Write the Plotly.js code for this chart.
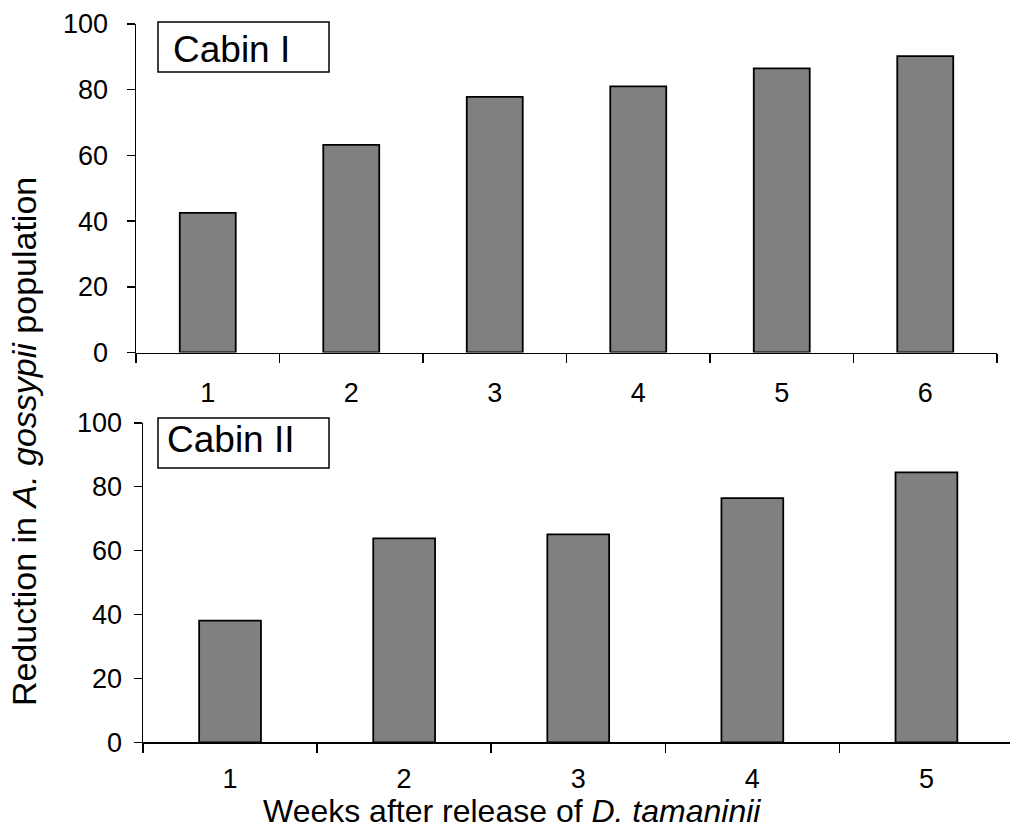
<!DOCTYPE html>
<html>
<head>
<meta charset="utf-8">
<script src="https://cdn.plot.ly/plotly-3.0.1.min.js"></script>
<style>html,body{margin:0;padding:0;background:#fff;}#chart{width:1010px;height:830px;}</style>
</head>
<body>
<div id="chart"></div>
<script>
const weeksCabin1 = ['1', '2', '3', '4', '5', '6'];
const reductionCabin1 = [42.5, 63.2, 77.8, 81.0, 86.5, 90.2];
const weeksCabin2 = ['1', '2', '3', '4', '5'];
const reductionCabin2 = [38.1, 63.8, 65.1, 76.4, 84.5];
const yTickVals = [0, 20, 40, 60, 80, 100];
const panelLabels = ['Cabin I', 'Cabin II'];
const yTitle = 'Reduction in <i>A. gossypii</i> population';
const xTitle = 'Weeks after release of <i>D. tamaninii</i>';

const W = 1010, H = 830;
const px = v => v / W;
const py = v => 1 - v / H;
const FONT = '"Liberation Sans", Arial, Helvetica, sans-serif';

const barStyle = {color: '#808080', line: {color: '#000', width: 1.8}};
const traces = [
  {type: 'bar', x: weeksCabin1, y: reductionCabin1, xaxis: 'x', yaxis: 'y', marker: barStyle, width: 0.39, hoverinfo: 'x+y'},
  {type: 'bar', x: weeksCabin2, y: reductionCabin2, xaxis: 'x2', yaxis: 'y2', marker: barStyle, width: 0.355, hoverinfo: 'x+y'}
];

const xBase = {
  type: 'category', tickson: 'boundaries', ticks: 'outside', ticklen: 9, tickwidth: 1.5, tickcolor: '#000',
  showline: true, linecolor: '#000', linewidth: 1.5, showgrid: false, zeroline: false,
  tickfont: {family: FONT, size: 27, color: '#000'}, fixedrange: true
};
const yBase = {
  range: [0, 100], tickvals: yTickVals, ticks: 'outside', ticklen: 8, tickwidth: 1.5, tickcolor: '#000',
  showline: true, linecolor: '#000', linewidth: 1.5, showgrid: false, zeroline: false,
  tickfont: {family: FONT, size: 27, color: '#000'}, fixedrange: true
};

const layout = {
  width: W, height: H,
  margin: {l: 0, r: 0, t: 0, b: 0, pad: 0},
  paper_bgcolor: '#fff', plot_bgcolor: 'rgba(0,0,0,0)',
  showlegend: false, bargap: 0,
  font: {family: FONT, color: '#000'},
  xaxis: Object.assign({}, xBase, {domain: [px(136), px(997)], range: [-0.5, 5.5], anchor: 'y', ticklabelstandoff: 16}),
  yaxis: Object.assign({}, yBase, {domain: [py(352.5), py(24)], anchor: 'x', ticklabelstandoff: 13}),
  xaxis2: Object.assign({}, xBase, {domain: [px(143), 1], range: [-0.5, 4.48], anchor: 'y2', ticklabelstandoff: 12}),
  yaxis2: Object.assign({}, yBase, {domain: [py(742.3), py(422.8)], anchor: 'x2', ticklabelstandoff: 6}),
  shapes: [
    {type: 'rect', xref: 'paper', yref: 'paper', x0: px(158), x1: px(329), y0: py(72), y1: py(22), line: {color: '#000', width: 1.5}, fillcolor: '#fff'},
    {type: 'rect', xref: 'paper', yref: 'paper', x0: px(158), x1: px(329), y0: py(468), y1: py(418), line: {color: '#000', width: 1.5}, fillcolor: '#fff'}
  ],
  annotations: [
    {xref: 'paper', yref: 'paper', x: px(171), y: py(49), xanchor: 'left', yanchor: 'middle', text: panelLabels[0], showarrow: false, font: {family: FONT, size: 37, color: '#000'}},
    {xref: 'paper', yref: 'paper', x: px(165), y: py(439), xanchor: 'left', yanchor: 'middle', text: panelLabels[1], showarrow: false, font: {family: FONT, size: 37, color: '#000'}},
    {xref: 'paper', yref: 'paper', x: px(24), y: py(442), xanchor: 'center', yanchor: 'middle', textangle: -90, text: yTitle, showarrow: false, font: {family: FONT, size: 34, color: '#000'}},
    {xref: 'paper', yref: 'paper', x: px(512), y: py(811), xanchor: 'center', yanchor: 'middle', text: xTitle, showarrow: false, font: {family: FONT, size: 32, color: '#000'}}
  ]
};

Plotly.newPlot('chart', traces, layout, {staticPlot: true, displayModeBar: false});
</script>
</body>
</html>
